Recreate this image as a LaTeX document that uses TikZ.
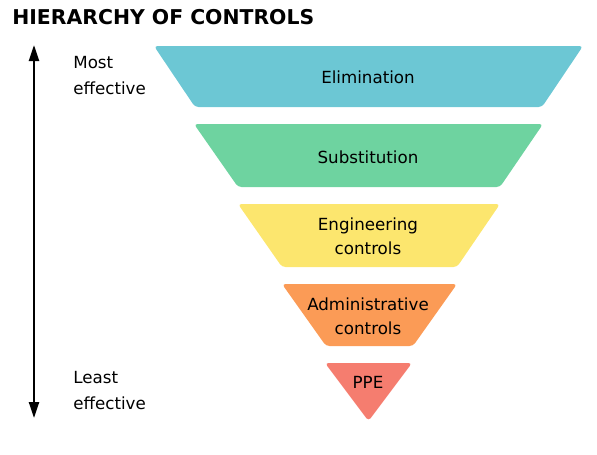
\documentclass[tikz,border=0pt]{standalone}
\usepackage{fontspec}
\setmainfont{DejaVu Sans}
\usetikzlibrary{arrows.meta}

\definecolor{elimcol}{HTML}{6CC7D4}
\definecolor{substcol}{HTML}{6ED3A0}
\definecolor{engcol}{HTML}{FCE66E}
\definecolor{admincol}{HTML}{FB9B56}
\definecolor{ppecol}{HTML}{F57D6F}

\tikzset{
  band/.style={rounded corners=2pt},
  lbl/.style={font=\fontsize{9.5}{13.5}\selectfont, align=center, inner sep=0pt},
  side/.style={font=\fontsize{9.5}{14.5}\selectfont, align=left, anchor=north west, inner sep=0pt},
}

\begin{document}
\begin{tikzpicture}[x=0.02cm,y=-0.02cm]
            \useasboundingbox (0,0) rectangle (597,454);
            \node [anchor=west, inner sep=0pt, font=\bfseries\fontsize{11.6}{13}\selectfont] (title) at (12,17) {HIERARCHY OF CONTROLS};
            % the five bands
            \fill [elimcol, band] (154,46) -- (583,46) -- (542,107) -- (195,107) -- cycle;
            \fill [substcol, band] (194,124) -- (543,124) -- (500,187) -- (238,187) -- cycle;
            \fill [engcol, band] (238,204) -- (500,204) -- (457,267) -- (282,267) -- cycle;
            \fill [admincol, band] (282,284) -- (457,284) -- (413,346) -- (326,346) -- cycle;
            \fill [ppecol, band] (325,363) -- (412,363) -- (368.5,421) -- cycle;
            \node [lbl] (elim) at (368,77) {Elimination};
            \node [lbl] (subst) at (368,157) {Substitution};
            \node [lbl] (eng) at (368,236) {Engineering\\controls};
            \node [lbl] (admin) at (368,316) {Administrative\\controls};
            \node [lbl] (ppe) at (368,382) {PPE};
            % effectiveness scale
            \coordinate (top) at (34,45);
            \coordinate (bot) at (34,418);
            \draw [{Triangle[length=0.32cm,width=0.2cm]}-{Triangle[length=0.32cm,width=0.2cm]}, line width=1.3pt] (top) -- (bot);
            \node [side] (most) at (73,56) {Most\\effective};
            \node [side] (least) at (73,371) {Least\\effective};
        \end{tikzpicture}
\end{document}
